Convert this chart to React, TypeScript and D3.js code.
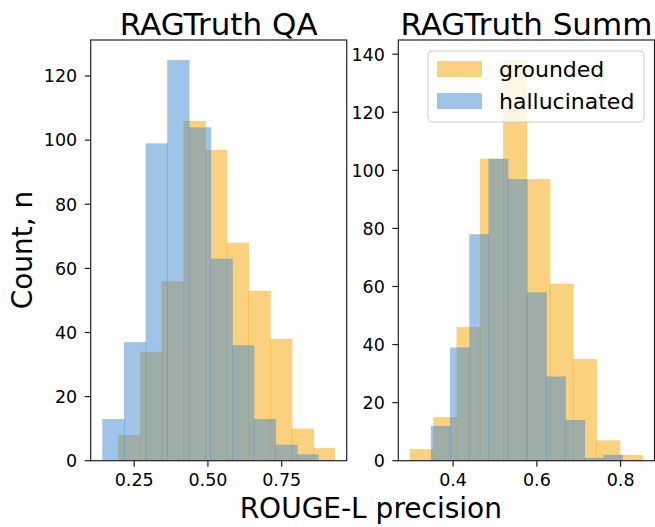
import * as d3 from 'd3'
import React from 'react'

// histogram counts (10 bins per series)
const qaGroundedRange = [0.196, 0.931]
const qaGrounded = [8, 34, 56, 106, 97, 68, 53, 38, 10, 4]
const qaHallucRange = [0.142, 0.875]
const qaHalluc = [13, 37, 99, 125, 104, 63, 36, 13, 5, 2]

const sumGroundedRange = [0.297, 0.853]
const sumGrounded = [4, 15, 46, 104, 138, 97, 61, 35, 7, 2]
const sumHallucRange = [0.347, 0.805]
const sumHalluc = [12, 39, 78, 104, 97, 58, 29, 14, 1, 2]

const qaXTicks = [0.25, 0.5, 0.75]
const qaYTicks = [0, 20, 40, 60, 80, 100, 120]
const sumXTicks = [0.4, 0.6, 0.8]
const sumYTicks = [0, 20, 40, 60, 80, 100, 120, 140]

const seriesNames = ['grounded', 'hallucinated']

const ORANGE = '#f5a300'
const BLUE = '#4189cf'
const FONT = 'DejaVu Sans, sans-serif'

const TOP = 40
const BOTTOM = 460.7

type Hist = { range: number[]; counts: number[]; color: string }

function Panel({ left, right, title, hists, xTicks, yTicks, xFmt, legend }: {
  left: number; right: number; title: string; hists: Hist[]
  xTicks: number[]; yTicks: number[]; xFmt: string; legend?: boolean
}) {
  const lo = d3.min(hists, h => h.range[0]) as number
  const hi = d3.max(hists, h => h.range[1]) as number
  const pad = (hi - lo) * 0.05
  const x = d3.scaleLinear().domain([lo - pad, hi + pad]).range([left, right])
  const ymax = (d3.max(hists, h => d3.max(h.counts)) as number) * 1.05
  const y = d3.scaleLinear().domain([0, ymax]).range([BOTTOM, TOP])
  const fmt = d3.format(xFmt)

  return (
    <g>
      {hists.map((h, hi) => {
        const w = (h.range[1] - h.range[0]) / h.counts.length
        return (
          <g key={hi}>
            {h.counts.map((c, i) => {
              const a = h.range[0] + i * w
              const last = i === h.counts.length - 1
              // small overlap so the bin seams show like matplotlib's antialiased bars
              return (
                <rect key={i} x={x(a)} y={y(c)} width={x(a + w) - x(a) + (last ? 0 : 0.7)}
                  height={y(0) - y(c)} fill={h.color} fillOpacity={0.5} />
              )
            })}
          </g>
        )
      })}
      <rect x={left} y={TOP} width={right - left} height={BOTTOM - TOP}
        fill="none" stroke="#222" strokeWidth={1.2} />
      {xTicks.map(t => (
        <g key={t}>
          <line x1={x(t)} x2={x(t)} y1={BOTTOM} y2={BOTTOM + 6} stroke="#222" strokeWidth={1.2} />
          <text x={x(t)} y={486} textAnchor="middle" fontSize={17.5} fontFamily={FONT}>{fmt(t)}</text>
        </g>
      ))}
      {yTicks.map(t => (
        <g key={t}>
          <line x1={left - 6} x2={left} y1={y(t)} y2={y(t)} stroke="#222" strokeWidth={1.2} />
          <text x={left - 13.5} y={y(t)} dy="0.36em" textAnchor="end" fontSize={17.5} fontFamily={FONT}>{t}</text>
        </g>
      ))}
      <text x={(left + right) / 2} y={35} textAnchor="middle" fontSize={31} fontFamily={FONT}>{title}</text>
      {legend && (
        <g>
          <rect x={428} y={51} width={216} height={71} rx={4} fill="#fff" fillOpacity={0.8}
            stroke="#cccccc" strokeWidth={1} />
          {hists.map((h, i) => (
            <g key={i}>
              <rect x={437} y={61 + i * 32} width={45} height={16} fill={h.color} fillOpacity={0.5} />
              <text x={499} y={77 + i * 32} fontSize={22} fontFamily={FONT}>{seriesNames[i]}</text>
            </g>
          ))}
        </g>
      )}
    </g>
  )
}

export default function App() {
  return (
    <svg width={655} height={527} style={{ position: 'absolute', left: 0, top: 0, background: '#fff' }}>
      <Panel left={90.7} right={346.7} title="RAGTruth QA"
        hists={[
          { range: qaGroundedRange, counts: qaGrounded, color: ORANGE },
          { range: qaHallucRange, counts: qaHalluc, color: BLUE },
        ]}
        xTicks={qaXTicks} yTicks={qaYTicks} xFmt=".2f" />
      <Panel left={398.3} right={654.5} title="RAGTruth Summ"
        hists={[
          { range: sumGroundedRange, counts: sumGrounded, color: ORANGE },
          { range: sumHallucRange, counts: sumHalluc, color: BLUE },
        ]}
        xTicks={sumXTicks} yTicks={sumYTicks} xFmt=".1f" legend />
      <text x={370.8} y={518} textAnchor="middle" fontSize={28} fontFamily={FONT}>ROUGE-L precision</text>
      <text transform="translate(32,250) rotate(-90)" textAnchor="middle" fontSize={28} fontFamily={FONT}>Count, n</text>
    </svg>
  )
}
